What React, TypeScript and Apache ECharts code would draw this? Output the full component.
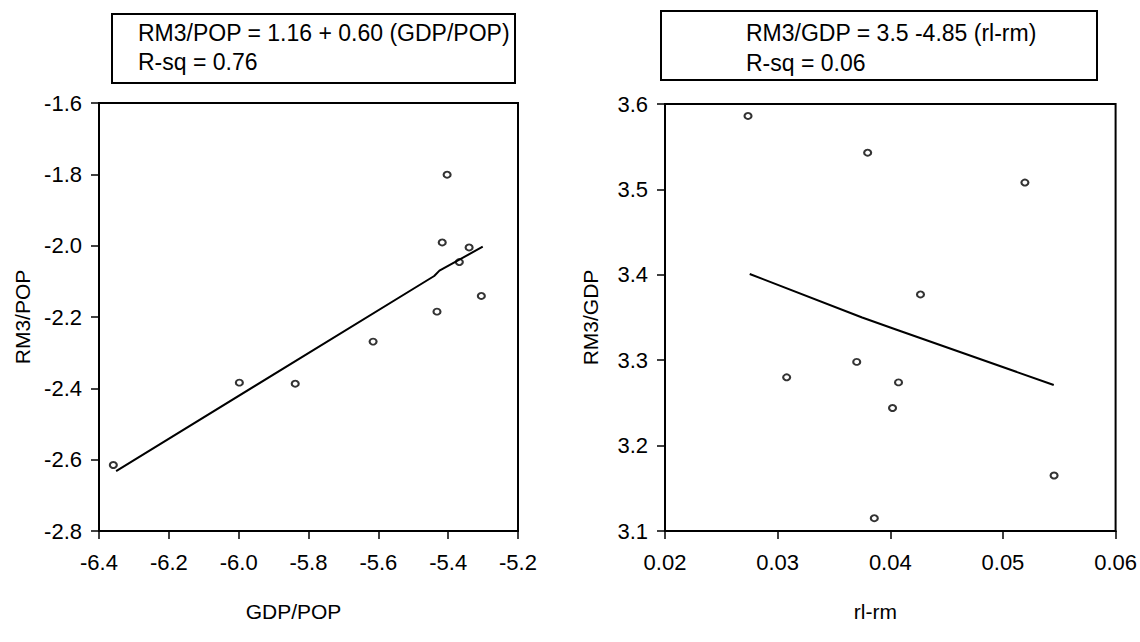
import React, { useEffect, useRef } from "react";
import * as echarts from "echarts";

// Left panel: GDP/POP vs RM3/POP
const leftPoints: [number, number][] = [
  [-6.359, -2.615],
  [-5.998, -2.384],
  [-5.838, -2.387],
  [-5.615, -2.269],
  [-5.432, -2.185],
  [-5.417, -1.991],
  [-5.403, -1.801],
  [-5.368, -2.046],
  [-5.34, -2.005],
  [-5.305, -2.141],
];
const leftFit: [number, number][] = [
  [-6.351, -2.632],
  [-5.44, -2.085],
  [-5.425, -2.07],
  [-5.301, -2.003],
];

// Right panel: rl-rm vs RM3/GDP
const rightPoints: [number, number][] = [
  [0.02737, 3.586],
  [0.03799, 3.543],
  [0.05195, 3.508],
  [0.0308, 3.28],
  [0.03702, 3.298],
  [0.04073, 3.274],
  [0.0402, 3.244],
  [0.05454, 3.165],
  [0.04268, 3.377],
  [0.03858, 3.115],
];
const rightFit: [number, number][] = [
  [0.02752, 3.401],
  [0.0375, 3.35],
  [0.0405, 3.336],
  [0.05451, 3.271],
];

const leftTitle = ["RM3/POP = 1.16 + 0.60 (GDP/POP)", "R-sq = 0.76"];
const rightTitle = ["RM3/GDP = 3.5 -4.85 (rl-rm)", "R-sq = 0.06"];

const FONT = "'Liberation Sans', Arial, sans-serif";
const FS = 22;
const TFS = 23;
const NFS = 21;

function axisCommon() {
  return {
    axisLine: { show: true, onZero: false, lineStyle: { color: "#000", width: 2 } },
    axisTick: { show: true, inside: false, length: 8, lineStyle: { color: "#000", width: 1.5 } },
    splitLine: { show: false },
    nameTextStyle: { color: "#000", fontSize: NFS, fontFamily: FONT },
  };
}

export default function App() {
  const ref = useRef<HTMLDivElement>(null);
  useEffect(() => {
    if (!ref.current) return;
    const chart = echarts.init(ref.current, undefined, { renderer: "svg" });
    const lbl = (digits: number, margin: number) => ({
      color: "#000",
      fontSize: FS,
      fontFamily: FONT,
      margin,
      formatter: (v: number) => v.toFixed(digits),
    });
    const scatterStyle = {
      type: "scatter",
      symbol: "circle",
      symbolSize: [7, 6],
      itemStyle: { color: "#fff", borderColor: "#000", borderWidth: 2 },
    };
    chart.setOption({
      animation: false,
      backgroundColor: "#fff",
      textStyle: { fontFamily: FONT },
      grid: [
        { left: 99, right: 622, top: 103, bottom: 111, show: true, borderColor: "#000", borderWidth: 2, backgroundColor: "transparent" },
        { left: 665, right: 23, top: 104, bottom: 111, show: true, borderColor: "#000", borderWidth: 2, backgroundColor: "transparent" },
      ],
      xAxis: [
        {
          ...axisCommon(),
          type: "value",
          gridIndex: 0,
          min: -6.4,
          max: -5.2,
          interval: 0.2,
          name: "GDP/POP",
          nameLocation: "middle",
          nameGap: 70,
          nameTextStyle: { color: "#000", fontSize: NFS, fontFamily: FONT, padding: [0, 30, 0, 0] },
          axisLabel: lbl(1, 20),
        },
        {
          ...axisCommon(),
          type: "value",
          gridIndex: 1,
          min: 0.02,
          max: 0.06,
          interval: 0.01,
          name: "rl-rm",
          nameLocation: "middle",
          nameGap: 70,
          nameTextStyle: { color: "#000", fontSize: NFS, fontFamily: FONT, padding: [0, 30, 0, 0] },
          axisLabel: lbl(2, 20),
        },
      ],
      yAxis: [
        {
          ...axisCommon(),
          type: "value",
          gridIndex: 0,
          min: -2.8,
          max: -1.6,
          interval: 0.2,
          name: "RM3/POP",
          nameLocation: "middle",
          nameGap: 66,
          axisLabel: lbl(1, 17),
        },
        {
          ...axisCommon(),
          type: "value",
          gridIndex: 1,
          min: 3.1,
          max: 3.6,
          interval: 0.1,
          name: "RM3/GDP",
          nameLocation: "middle",
          nameGap: 64,
          axisLabel: lbl(1, 17),
        },
      ],
      series: [
        { ...scatterStyle, xAxisIndex: 0, yAxisIndex: 0, data: leftPoints },
        {
          type: "line",
          xAxisIndex: 0,
          yAxisIndex: 0,
          data: leftFit,
          symbol: "none",
          lineStyle: { color: "#000", width: 2 },
        },
        { ...scatterStyle, xAxisIndex: 1, yAxisIndex: 1, data: rightPoints },
        {
          type: "line",
          xAxisIndex: 1,
          yAxisIndex: 1,
          data: rightFit,
          symbol: "none",
          lineStyle: { color: "#000", width: 2 },
        },
      ],
      graphic: [
        {
          type: "rect",
          shape: { x: 112, y: 14, width: 403, height: 69 },
          style: { fill: "#fff", stroke: "#000", lineWidth: 2 },
        },
        {
          type: "text",
          x: 138,
          y: 33,
          style: { text: leftTitle[0], fill: "#000", font: `${TFS}px ${FONT}`, verticalAlign: "middle" },
        },
        {
          type: "text",
          x: 138,
          y: 62,
          style: { text: leftTitle[1], fill: "#000", font: `${TFS}px ${FONT}`, verticalAlign: "middle" },
        },
        {
          type: "rect",
          shape: { x: 661, y: 11, width: 436, height: 69 },
          style: { fill: "#fff", stroke: "#000", lineWidth: 2 },
        },
        {
          type: "text",
          x: 746,
          y: 33,
          style: { text: rightTitle[0], fill: "#000", font: `${TFS}px ${FONT}`, verticalAlign: "middle" },
        },
        {
          type: "text",
          x: 746,
          y: 63,
          style: { text: rightTitle[1], fill: "#000", font: `${TFS}px ${FONT}`, verticalAlign: "middle" },
        },
      ],
    });
    return () => chart.dispose();
  }, []);
  return (
    <div
      ref={ref}
      style={{ position: "absolute", left: 0, top: 0, width: 1140, height: 642 }}
    />
  );
}
